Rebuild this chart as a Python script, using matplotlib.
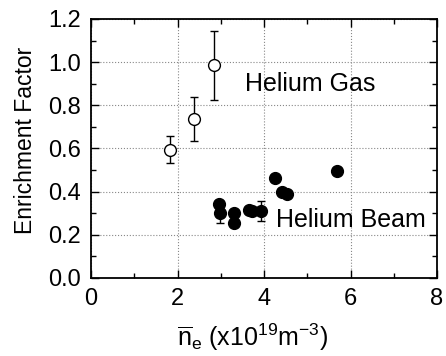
import numpy as np
import matplotlib.pyplot as plt
from matplotlib.ticker import MultipleLocator

plt.rcParams['font.family'] = ['Liberation Sans', 'DejaVu Sans']
plt.rcParams['mathtext.fontset'] = 'custom'
plt.rcParams['mathtext.rm'] = 'Liberation Sans'
plt.rcParams['mathtext.it'] = 'Liberation Sans'

# Helium gas puff (open circles with error bars)
gas_ne = [1.83, 2.38, 2.84]
gas_f = [0.595, 0.737, 0.988]
gas_err_lo = [0.063, 0.103, 0.162]
gas_err_hi = [0.065, 0.101, 0.157]

# Helium beam (filled circles)
beam_ne = [2.97, 2.98, 3.31, 3.31, 3.65, 3.72, 3.92, 4.25, 4.42, 4.53, 5.69]
beam_f = [0.345, 0.299, 0.303, 0.255, 0.314, 0.312, 0.311, 0.465, 0.398, 0.391, 0.495]
beam_err = [0.0, 0.044, 0.0, 0.0, 0.0, 0.0, 0.046, 0.0, 0.0, 0.0, 0.0]

fig = plt.figure(figsize=(4.46, 3.56), dpi=100)
ax = fig.add_axes([91 / 446, 78 / 356, 346 / 446, 259 / 356])

ax.errorbar(gas_ne, gas_f, yerr=[gas_err_lo, gas_err_hi], fmt='o', mfc='white',
            mec='black', color='black', ms=8.5, mew=1.0, elinewidth=1.0, capsize=3, zorder=3)
ax.errorbar(beam_ne, beam_f, yerr=beam_err, fmt='o', mfc='black', mec='black',
            color='black', ms=8.5, elinewidth=1.0, capsize=3, zorder=3)

ax.text(3.55, 0.90, 'Helium Gas', fontsize=18, va='center', ha='left')
ax.text(4.28, 0.268, 'Helium Beam', fontsize=18, va='center', ha='left')

ax.set_xlim(0, 8)
ax.set_ylim(0, 1.2)
ax.xaxis.set_major_locator(MultipleLocator(2))
ax.xaxis.set_minor_locator(MultipleLocator(1))
ax.yaxis.set_major_locator(MultipleLocator(0.2))
ax.yaxis.set_minor_locator(MultipleLocator(0.1))
ax.yaxis.set_major_formatter(plt.FormatStrFormatter('%.1f'))
ax.tick_params(which='both', direction='in', top=True, right=True, labelsize=17, width=1.0)
ax.tick_params(which='major', length=6, pad=7)
ax.tick_params(which='minor', length=3.5)
ax.grid(True, which='major', color='#888888', linestyle=':', linewidth=0.8)
for s in ax.spines.values():
    s.set_linewidth(1.3)

ax.set_xlabel(r'$\overline{\mathrm{n}}_{\mathrm{e}}$ (x10$^{19}$m$^{-3}$)', fontsize=18)
ax.set_ylabel('Enrichment Factor', fontsize=16.5)
ax.xaxis.set_label_coords(0.467, -0.17)
ax.yaxis.set_label_coords(-0.155, 0.53)

plt.savefig('out.png', dpi=100)
